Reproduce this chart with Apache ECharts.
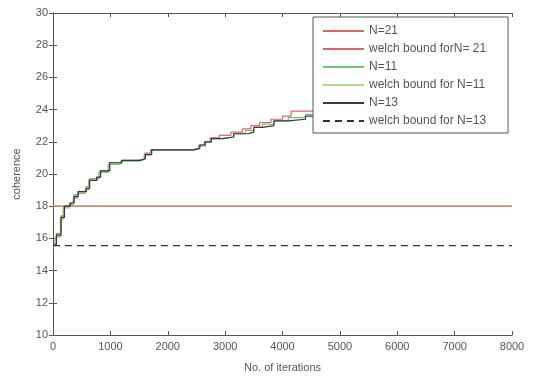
<!DOCTYPE html>
<html>
<head>
<meta charset="utf-8">
<script src="https://cdn.jsdelivr.net/npm/echarts@6/dist/echarts.min.js"></script>
<style>
  html, body { margin: 0; padding: 0; background: #fff; }
</style>
</head>
<body>
<div id="chart" style="width:536px;height:378px;"></div>
<script>
// iterations / coherence for each N (step curves)
const iterN21 = [20, 60, 140, 190, 290, 360, 430, 570, 630, 750, 820, 980, 1200, 1500, 1600, 1700, 2440, 2540, 2640, 2740, 2900, 3100, 3300, 3450, 3600, 3800, 4000, 4150, 4550];
const cohN21 = [15.7, 16.3, 17.4, 18.0, 18.2, 18.7, 18.9, 19.2, 19.7, 19.8, 20.2, 20.7, 20.85, 20.95, 21.3, 21.5, 21.6, 21.8, 22.0, 22.25, 22.4, 22.6, 22.8, 23.0, 23.2, 23.4, 23.6, 23.9, 23.95];

const iterN11 = [20, 50, 130, 180, 280, 350, 420, 560, 620, 740, 800, 960, 1180, 1500, 1590, 1700, 2440, 2550, 2660, 2760, 2950, 3150, 3350, 3500, 3650, 3850, 4100, 4400, 4550];
const cohN11 = [15.6, 16.1, 17.2, 17.9, 18.1, 18.5, 18.8, 19.0, 19.6, 19.7, 20.1, 20.6, 20.8, 20.9, 21.2, 21.5, 21.55, 21.75, 22.0, 22.2, 22.3, 22.5, 22.7, 22.9, 23.1, 23.3, 23.5, 23.7, 23.9];

const iterN13 = [20, 60, 140, 200, 300, 370, 440, 580, 640, 760, 830, 990, 1200, 1520, 1610, 1720, 2450, 2560, 2650, 2760, 2950, 3150, 3400, 3500, 3650, 3850, 4100, 4400, 4550];
const cohN13 = [15.6, 16.2, 17.3, 18.0, 18.2, 18.6, 18.9, 19.1, 19.6, 19.8, 20.2, 20.7, 20.85, 20.95, 21.2, 21.5, 21.6, 21.8, 22.0, 22.2, 22.3, 22.5, 22.6, 22.9, 23.0, 23.3, 23.4, 23.6, 23.9];

// welch bounds (horizontal lines)
const boundRange = [0, 8000];
const welchN21 = 18.0;
const welchN11 = 18.0;
const welchN13 = 15.55;

const names = ["N=21", "welch bound forN= 21", "N=11", "welch bound for N=11", "N=13", "welch bound for N=13"];

function pairs(xs, ys) {
  return xs.map((x, i) => [x, ys[i]]);
}
function flat(v) {
  return boundRange.map(x => [x, v]);
}

const textColor = "#555";
const axisColor = "#555";

const baseAxis = {
  axisLine: { show: true, lineStyle: { color: axisColor, width: 1 } },
  axisTick: { show: true, inside: true, length: 4, lineStyle: { color: axisColor } },
  splitLine: { show: false },
  axisLabel: { color: textColor, fontSize: 11, fontFamily: "Liberation Sans", formatter: v => String(v) }
};

let option = {
  animation: false,
  backgroundColor: "#fff",
  grid: { left: 53, right: 24, top: 13, bottom: 38 },
  legend: {
    orient: "vertical",
    left: 313,
    top: 17,
    padding: [8, 22, 6, 9],
    itemWidth: 41,
    itemHeight: 14,
    itemGap: 6,
    backgroundColor: "#fff",
    borderColor: "#555",
    borderWidth: 1,
    borderRadius: 0,
    itemStyle: { opacity: 0 },
    textStyle: { color: textColor, fontSize: 12, fontFamily: "Liberation Sans" },
    data: names
  },
  xAxis: [
    Object.assign({}, baseAxis, {
      type: "value", min: 0, max: 8000, interval: 1000,
      name: "No. of iterations", nameLocation: "middle", nameGap: 27,
      nameTextStyle: { color: textColor, fontSize: 11, fontFamily: "Liberation Sans" },
      axisLabel: Object.assign({}, baseAxis.axisLabel, { margin: 6 })
    }),
    Object.assign({}, baseAxis, {
      type: "value", min: 0, max: 8000, interval: 1000, position: "top",
      axisLabel: { show: false }
    })
  ],
  yAxis: [
    Object.assign({}, baseAxis, {
      type: "value", min: 10, max: 30, interval: 2,
      name: "coherence", nameLocation: "middle", nameGap: 31,
      nameTextStyle: { color: textColor, fontSize: 11, fontFamily: "Liberation Sans" },
      axisLabel: Object.assign({}, baseAxis.axisLabel, { margin: 5 })
    }),
    Object.assign({}, baseAxis, {
      type: "value", min: 10, max: 30, interval: 2, position: "right",
      axisLabel: { show: false }
    })
  ],
  series: [
    { name: names[0], type: "line", step: "end", symbol: "none", data: pairs(iterN21, cohN21),
      lineStyle: { color: "#d9666a", width: 1.2 }, itemStyle: { color: "#d9666a" } },
    { name: names[3], type: "line", symbol: "none", data: flat(welchN11),
      lineStyle: { color: "#a6e08a", width: 1.2 }, itemStyle: { color: "#a6e08a" } },
    { name: names[1], type: "line", symbol: "none", data: flat(welchN21),
      lineStyle: { color: "#d9666a", width: 1.2 }, itemStyle: { color: "#d9666a" } },
    { name: names[2], type: "line", step: "end", symbol: "none", data: pairs(iterN11, cohN11),
      lineStyle: { color: "#6cc86c", width: 1.2 }, itemStyle: { color: "#6cc86c" } },
    { name: names[4], type: "line", step: "end", symbol: "none", data: pairs(iterN13, cohN13),
      lineStyle: { color: "#3a3644", width: 1.2 }, itemStyle: { color: "#3a3644" } },
    { name: names[5], type: "line", symbol: "none", data: flat(welchN13),
      lineStyle: { color: "#333", width: 1.2, type: [7, 5] }, itemStyle: { color: "#333" } }
  ]
};

let myChart = echarts.init(document.getElementById("chart"));
myChart.setOption(option);
</script>
</body>
</html>
